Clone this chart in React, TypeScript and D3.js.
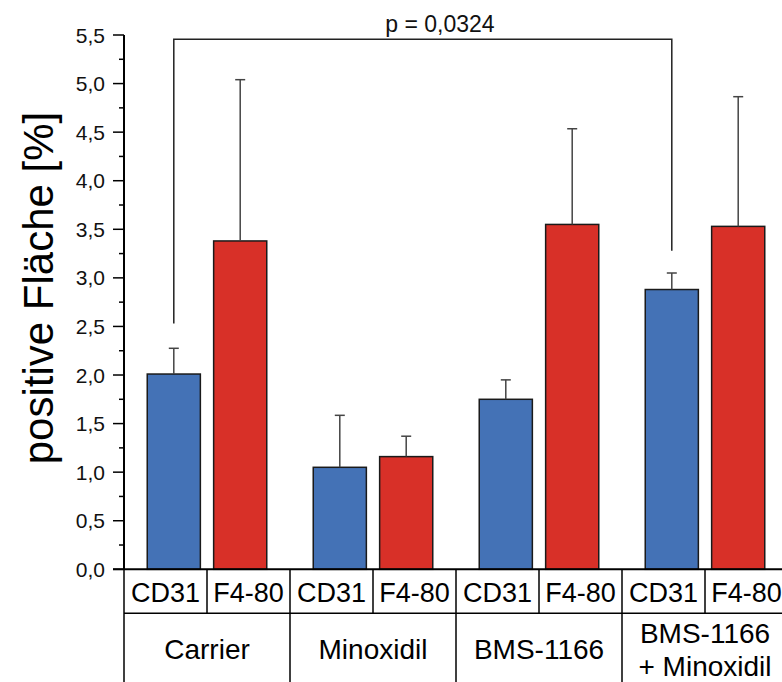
import React from "react";
import * as d3 from "d3";

const groups = ["Carrier", "Minoxidil", "BMS-1166", "BMS-1166\n+ Minoxidil"];
const markers = ["CD31", "F4-80"];
const cd31Values = [2.01, 1.05, 1.75, 2.88];
const cd31Err = [0.265, 0.535, 0.2, 0.17];
const f480Values = [3.38, 1.16, 3.55, 3.53];
const f480Err = [1.66, 0.21, 0.985, 1.335];
const yTicks = [0, 0.5, 1, 1.5, 2, 2.5, 3, 3.5, 4, 4.5, 5, 5.5];
const yMinorTicks = [0.25, 0.75, 1.25, 1.75, 2.25, 2.75, 3.25, 3.75, 4.25, 4.75, 5.25];
const bracket = { from: 0, to: 3, level: 5.455, leftEnd: 2.53, rightEnd: 3.28, label: "p = 0,0324" };
const yTitle = "positive Fläche [%]";

const W = 782;
const H = 682;
const FONT = "'Liberation Sans', Arial, sans-serif";
const colors: Record<string, string> = { CD31: "#4472b6", "F4-80": "#d83028" };

export default function App() {
  const x0 = 124;
  const groupW = 166;
  const y = d3.scaleLinear().domain([0, 5.5]).range([569.3, 35]);
  const xGroup = d3.scaleBand<string>().domain(groups).range([x0, x0 + groupW * groups.length]).padding(0);
  const xBar = d3.scaleBand<string>().domain(markers).range([0, xGroup.bandwidth()]).paddingInner(0.2).paddingOuter(0.35);
  const xCell = d3.scaleBand<string>().domain(markers).range([0, xGroup.bandwidth()]).padding(0);

  const rows = groups.map((g, i) => [
    { g, m: "CD31", v: cd31Values[i], e: cd31Err[i] },
    { g, m: "F4-80", v: f480Values[i], e: f480Err[i] },
  ]).flat();

  const barCenter = (g: string, m: string) => (xGroup(g) as number) + (xBar(m) as number) + xBar.bandwidth() / 2;

  const rowTop = y(0);
  const rowMid = 613.3;
  const fmt = (v: number) => d3.format(".1f")(v).replace(".", ",");

  const bl = barCenter(groups[bracket.from], "CD31");
  const br = barCenter(groups[bracket.to], "CD31");

  return (
    <svg width={W} height={H} style={{ position: "absolute", left: 0, top: 0, background: "#fff" }} fontFamily={FONT}>
      {/* bars */}
      {rows.map((r, i) => {
        const xb = (xGroup(r.g) as number) + (xBar(r.m) as number);
        return (
          <rect key={"b" + i} x={xb} y={y(r.v)} width={xBar.bandwidth()} height={y(0) - y(r.v)}
            fill={colors[r.m]} stroke="#1a1a1a" strokeWidth={1.5} />
        );
      })}
      {/* error bars */}
      {rows.map((r, i) => {
        const cx = barCenter(r.g, r.m);
        return (
          <g key={"e" + i} stroke="#444" strokeWidth={1.5}>
            <line x1={cx} x2={cx} y1={y(r.v)} y2={y(r.v + r.e)} />
            <line x1={cx - 5} x2={cx + 5} y1={y(r.v + r.e)} y2={y(r.v + r.e)} />
          </g>
        );
      })}
      {/* significance bracket */}
      <g fill="none" stroke="#222" strokeWidth={1.5}>
        <polyline points={`${bl},${y(bracket.leftEnd)} ${bl},${y(bracket.level)} ${br},${y(bracket.level)} ${br},${y(bracket.rightEnd)}`} />
      </g>
      <text x={440} y={31.5} textAnchor="middle" fontSize={23} fill="#111">{bracket.label}</text>

      {/* y axis */}
      <line x1={x0} x2={x0} y1={y(5.5)} y2={y(0)} stroke="#000" strokeWidth={2} />
      {yTicks.map((t) => (
        <g key={"t" + t}>
          <line x1={x0 - 11} x2={x0} y1={y(t)} y2={y(t)} stroke="#000" strokeWidth={1.5} />
          <text x={105} y={y(t)} dy="0.36em" textAnchor="end" fontSize={21} fill="#111">{fmt(t)}</text>
        </g>
      ))}
      {yMinorTicks.map((t) => (
        <line key={"m" + t} x1={x0 - 5} x2={x0} y1={y(t)} y2={y(t)} stroke="#000" strokeWidth={1.5} />
      ))}
      <text transform={`translate(53,288) rotate(-90)`} textAnchor="middle" fontSize={42} fill="#000">{yTitle}</text>

      {/* table */}
      <line x1={x0 - 11} x2={W} y1={rowTop} y2={rowTop} stroke="#000" strokeWidth={2} />
      <line x1={x0} x2={W} y1={rowMid} y2={rowMid} stroke="#000" strokeWidth={1.5} />
      <line x1={x0} x2={x0} y1={rowTop} y2={H} stroke="#000" strokeWidth={1.5} />
      {groups.map((g) => (
        <g key={"tg" + g}>
          {markers.map((m) => {
            const cx0 = (xGroup(g) as number) + (xCell(m) as number);
            return (
              <g key={m}>
                <line x1={cx0 + xCell.bandwidth()} x2={cx0 + xCell.bandwidth()} y1={rowTop} y2={rowMid} stroke="#000" strokeWidth={1.5} />
                <text x={cx0 + xCell.bandwidth() / 2} y={601.5} textAnchor="middle" fontSize={27} fill="#000">{m}</text>
              </g>
            );
          })}
          <line x1={(xGroup(g) as number) + groupW} x2={(xGroup(g) as number) + groupW} y1={rowMid} y2={H} stroke="#000" strokeWidth={1.5} />
          {g.split("\n").length === 1 ? (
            <text x={(xGroup(g) as number) + groupW / 2} y={659} textAnchor="middle" fontSize={28} fill="#000">{g}</text>
          ) : (
            g.split("\n").map((line, li) => (
              <text key={li} x={(xGroup(g) as number) + groupW / 2} y={643 + li * 33} textAnchor="middle" fontSize={28} fill="#000">{line}</text>
            ))
          )}
        </g>
      ))}
    </svg>
  );
}
